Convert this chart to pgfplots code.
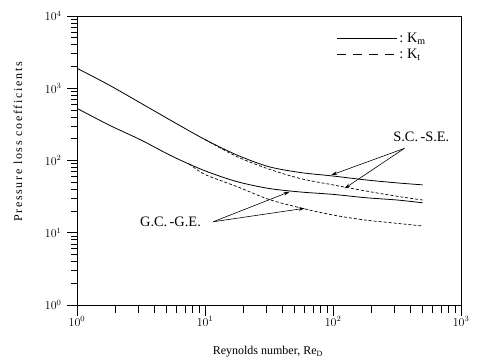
\documentclass[border=0pt]{standalone}
\usepackage{pgfplots}
\pgfplotsset{compat=1.18}
\usepackage{fontspec}
\setmainfont{Liberation Serif}
\usetikzlibrary{arrows.meta}
\begin{document}
\begin{tikzpicture}
\begin{axis}[
  scale only axis, width=384pt, height=289pt,
  xmode=log, ymode=log, clip=false,
  xmin=1, xmax=1000, ymin=1, ymax=10000,
  tick align=outside, xtick pos=left, ytick pos=left,
  xtick={1,10,100,1000}, ytick={1,10,100,1000,10000},
  minor xtick={}, minor ytick={},
  major tick length=0pt, minor tick length=0pt,
  axis line style={line width=0.7pt},
  ticklabel style={font=\large},
  xticklabel style={yshift=-8pt},
  yticklabel style={xshift=-12pt},
  xlabel={Reynolds number, Re\textsubscript{D}},
  ylabel={\addfontfeature{LetterSpace=14}Pressure loss coefficients},
  label style={font=\large},
  xlabel style={at={(axis description cs:0.497,-0.163)}, anchor=center},
  ylabel style={at={(axis description cs:-0.154,0.564)}, anchor=center},
  legend style={draw=none, fill=none, at={(0.668,0.955)}, anchor=north west, font=\Large, row sep=1pt},
  legend cell align=left,
  legend image code/.code={\draw[#1] (0pt,0pt) -- (60pt,0pt);},
  unbounded coords=jump,
]
\addlegendimage{black, line width=0.7pt}
\addlegendentry{:~K\textsubscript{m}}
\addlegendimage{black, line width=0.7pt, dash pattern=on 9pt off 7pt}
\addlegendentry{:~K\textsubscript{t}}

% axis ticks drawn outward (bottom and left only)
\addplot[black, line width=0.7pt, forget plot] coordinates {
(2,1) (2,0.775) (2,nan) (3,1) (3,0.775) (3,nan) (4,1) (4,0.775) (4,nan) (5,1) (5,0.775) (5,nan)
(6,1) (6,0.775) (6,nan) (7,1) (7,0.775) (7,nan) (8,1) (8,0.775) (8,nan) (9,1) (9,0.775) (9,nan)
(20,1) (20,0.775) (20,nan) (30,1) (30,0.775) (30,nan) (40,1) (40,0.775) (40,nan) (50,1) (50,0.775) (50,nan)
(60,1) (60,0.775) (60,nan) (70,1) (70,0.775) (70,nan) (80,1) (80,0.775) (80,nan) (90,1) (90,0.775) (90,nan)
(200,1) (200,0.775) (200,nan) (300,1) (300,0.775) (300,nan) (400,1) (400,0.775) (400,nan) (500,1) (500,0.775) (500,nan)
(600,1) (600,0.775) (600,nan) (700,1) (700,0.775) (700,nan) (800,1) (800,0.775) (800,nan) (900,1) (900,0.775) (900,nan)
(1,1) (1,0.705) (1,nan) (10,1) (10,0.705) (10,nan) (100,1) (100,0.705) (100,nan) (1000,1) (1000,0.705)};
\addplot[black, line width=0.7pt, forget plot] coordinates {
(1,2) (0.898,2) (nan,2) (1,3) (0.898,3) (nan,3) (1,4) (0.898,4) (nan,4) (1,5) (0.898,5) (nan,5)
(1,6) (0.898,6) (nan,6) (1,7) (0.898,7) (nan,7) (1,8) (0.898,8) (nan,8) (1,9) (0.898,9) (nan,9)
(1,20) (0.898,20) (nan,20) (1,30) (0.898,30) (nan,30) (1,40) (0.898,40) (nan,40) (1,50) (0.898,50) (nan,50)
(1,60) (0.898,60) (nan,60) (1,70) (0.898,70) (nan,70) (1,80) (0.898,80) (nan,80) (1,90) (0.898,90) (nan,90)
(1,200) (0.898,200) (nan,200) (1,300) (0.898,300) (nan,300) (1,400) (0.898,400) (nan,400) (1,500) (0.898,500) (nan,500)
(1,600) (0.898,600) (nan,600) (1,700) (0.898,700) (nan,700) (1,800) (0.898,800) (nan,800) (1,900) (0.898,900) (nan,900)
(1,2000) (0.898,2000) (nan,2000) (1,3000) (0.898,3000) (nan,3000) (1,4000) (0.898,4000) (nan,4000) (1,5000) (0.898,5000) (nan,5000)
(1,6000) (0.898,6000) (nan,6000) (1,7000) (0.898,7000) (nan,7000) (1,8000) (0.898,8000) (nan,8000) (1,9000) (0.898,9000) (nan,9000)
(1,1) (0.835,1) (nan,1) (1,10) (0.835,10) (nan,10) (1,100) (0.835,100) (nan,100) (1,1000) (0.835,1000) (nan,1000) (1,10000) (0.835,10000)};

% S.C.-S.E. Km
\addplot[black, line width=0.8pt, smooth, forget plot] coordinates {
(1,1890) (1.778,1110) (3.162,620) (5.623,345) (10,195) (17.78,119) (31.62,82) (56.23,68) (100,61) (177.8,54) (316.2,49) (501,46)};
% S.C.-S.E. Kt
\addplot[black, line width=0.7pt, smooth, dash pattern=on 3pt off 2pt, forget plot] coordinates {
(10,195) (17.78,113) (31.62,76) (56.23,56) (100,46) (177.8,38) (316.2,32) (501,28.4)};
% G.C.-G.E. Km
\addplot[black, line width=0.8pt, smooth, forget plot] coordinates {
(1,527) (1.778,310) (3.162,192) (5.623,113) (10,72) (17.78,51) (31.62,41) (56.23,36.6) (100,34) (177.8,30.6) (316.2,28.4) (501,26)};
% G.C.-G.E. Kt
\addplot[black, line width=0.7pt, smooth, dash pattern=on 3pt off 2pt, forget plot] coordinates {
(7.5,90) (10,64) (17.78,43.5) (31.62,28.9) (56.23,22) (100,17.6) (177.8,15) (316.2,13.5) (501,12.4)};

% arrows
\addplot[black, line width=0.6pt, -{Stealth[length=6pt,width=3.5pt]}, forget plot] coordinates {(361,147) (97,63)};
\addplot[black, line width=0.6pt, -{Stealth[length=6pt,width=3.5pt]}, forget plot] coordinates {(361,147) (123,41)};
\addplot[black, line width=0.6pt, -{Stealth[length=6pt,width=3.5pt]}, forget plot] coordinates {(11.6,14.2) (45.9,37)};
\addplot[black, line width=0.6pt, -{Stealth[length=6pt,width=3.5pt]}, forget plot] coordinates {(11.6,14.2) (60.1,21.8)};

\node[font=\Large] at (axis cs:490,213) {S.C.\,-S.E.};
\node[font=\Large, anchor=east] at (axis cs:9.9,14.2) {G.C.\,-G.E.};
\end{axis}
\pgfresetboundingbox
\path[use as bounding box] (current axis.south west) ++(-77pt,-57pt) rectangle ([shift={(21pt,16pt)}]current axis.north east);
\end{tikzpicture}
\end{document}
